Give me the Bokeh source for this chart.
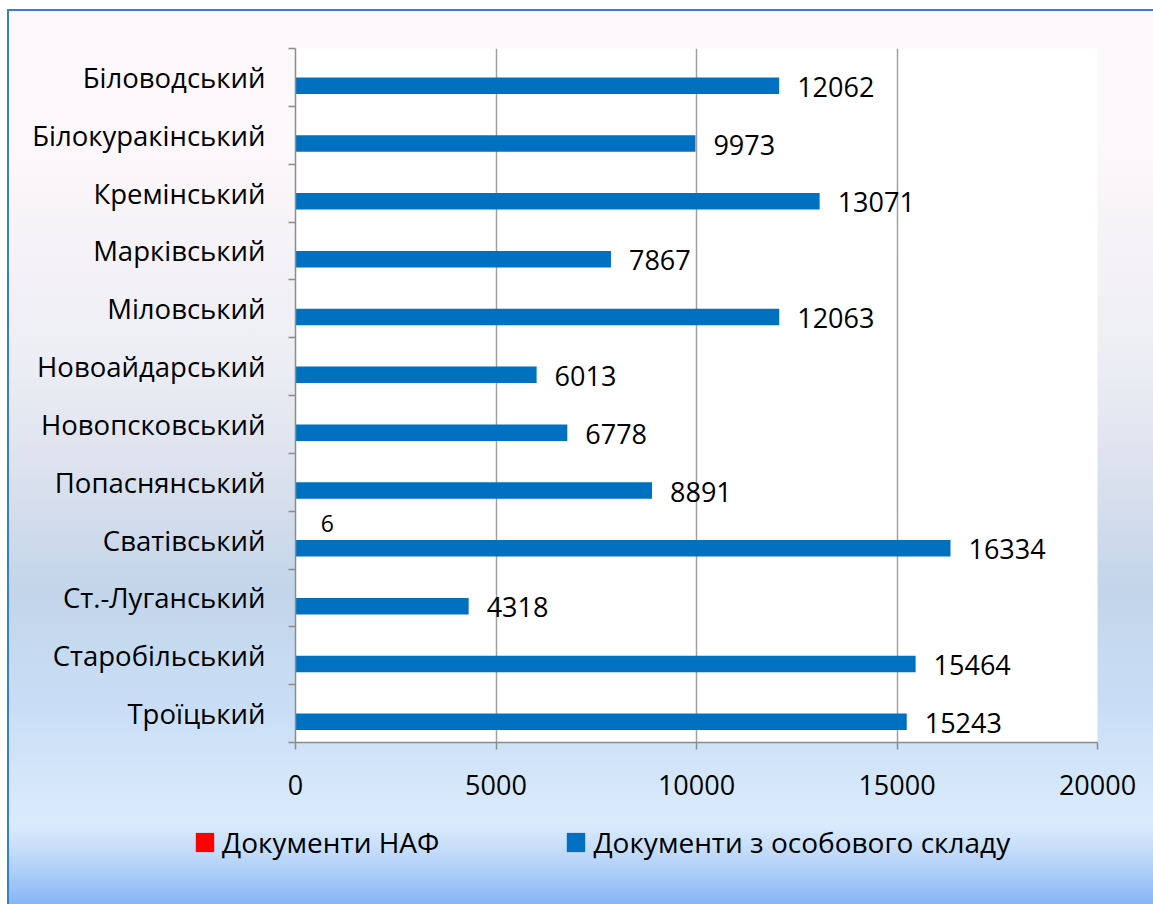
import pandas as pd
from bokeh.plotting import figure
from bokeh.layouts import column
from bokeh.models import ColumnDataSource, Range1d, FixedTicker, Legend, LegendItem
from bokeh.transform import dodge
from bokeh.core.properties import value
from bokeh.embed import file_html
from bokeh.resources import INLINE

districts = ["Біловодський", "Білокуракінський", "Кремінський", "Марківський",
             "Міловський", "Новоайдарський", "Новопсковський", "Попаснянський",
             "Сватівський", "Ст.-Луганський", "Старобільський", "Троїцький"]
naf_docs = [0, 0, 0, 0, 0, 0, 0, 0, 6, 0, 0, 0]
staff_docs = [12062, 9973, 13071, 7867, 12063, 6013, 6778, 8891, 16334, 4318, 15464, 15243]
x_ticks = [0, 5000, 10000, 15000, 20000]
series_names = ["Документи НАФ", "Документи з особового складу"]
series_colors = ["#FF0000", "#0070C0"]

FONT = "Open Sans"
n = len(districts)
df = pd.DataFrame({
    "pos": [i + 0.5 for i in range(n)],
    "naf": naf_docs,
    "staff": staff_docs,
    "naf_lbl": [str(v) if v else "" for v in naf_docs],
    "staff_lbl": [str(v) for v in staff_docs],
})
src = ColumnDataSource(df)

# ---------------- main chart ----------------
p = figure(frame_width=802, frame_height=694, x_range=Range1d(0, 20000), y_range=Range1d(n, 0),
           output_backend="svg", toolbar_location=None,
           min_border_left=295, min_border_right=56, min_border_top=48, min_border_bottom=78)
p.background_fill_color = "white"
p.border_fill_color = None
p.outline_line_color = None

bar_h = 0.286
r_naf = p.hbar(y=dodge("pos", -bar_h / 2, range=p.y_range), left=0, right="naf", height=bar_h,
               fill_color=series_colors[0], line_color=None, source=src)
r_staff = p.hbar(y=dodge("pos", bar_h / 2, range=p.y_range), left=0, right="staff", height=bar_h,
                 fill_color=series_colors[1], line_color=None, source=src)

p.text(x="staff", y=dodge("pos", bar_h / 2, range=p.y_range), text="staff_lbl", source=src,
       x_offset=18, y_offset=1, text_baseline="middle", text_align="left",
       text_font=value(FONT), text_font_size="27px", text_color="black")
p.text(x="naf", y=dodge("pos", -bar_h / 2, range=p.y_range), text="naf_lbl", source=src,
       x_offset=25, y_offset=-8, text_baseline="middle", text_align="left",
       text_font=value(FONT), text_font_size="23px", text_color="black")

p.xaxis.ticker = FixedTicker(ticks=x_ticks)
p.xaxis.axis_line_color = "#8C8C8C"
p.xaxis.axis_line_width = 1.5
p.xaxis.major_tick_line_color = "#8C8C8C"
p.xaxis.major_tick_line_width = 1.5
p.xaxis.major_tick_in = 0
p.xaxis.major_tick_out = 7
p.xaxis.minor_tick_line_color = None
p.xaxis.major_label_text_font = FONT
p.xaxis.major_label_text_font_size = "27px"
p.xaxis.major_label_text_color = "black"
p.xaxis.major_label_standoff = 25

p.yaxis.ticker = FixedTicker(ticks=list(df["pos"]), minor_ticks=list(range(n + 1)))
p.yaxis.major_label_overrides = {float(pos): name for pos, name in zip(df["pos"], districts)}
p.yaxis.axis_line_color = "#8C8C8C"
p.yaxis.axis_line_width = 1.5
p.yaxis.major_tick_line_color = None
p.yaxis.major_tick_in = 0
p.yaxis.major_tick_out = 0
p.yaxis.minor_tick_line_color = "#8C8C8C"
p.yaxis.minor_tick_line_width = 1.5
p.yaxis.minor_tick_in = 0
p.yaxis.minor_tick_out = 7
p.yaxis.major_label_text_font = FONT
p.yaxis.major_label_text_font_size = "27.5px"
p.yaxis.major_label_text_color = "black"
p.yaxis.major_label_standoff = 23

p.xgrid.ticker = FixedTicker(ticks=x_ticks)
p.xgrid.grid_line_color = "#A0A0A0"
p.xgrid.grid_line_width = 1.5
p.ygrid.grid_line_color = None

# ---------------- legend strip ----------------
q = figure(frame_width=1153, frame_height=84, x_range=Range1d(0, 1153), y_range=Range1d(0, 84),
           output_backend="svg", toolbar_location=None, x_axis_type=None, y_axis_type=None,
           min_border=0)
q.background_fill_color = None
q.border_fill_color = None
q.outline_line_color = None
q.grid.grid_line_color = None
# legend-only renderers (zero-height bars, nothing is drawn in the strip)
l_naf = q.hbar(y="pos", left=0, right="naf", height=0, fill_color=series_colors[0],
               line_color=None, source=src)
l_staff = q.hbar(y="pos", left=0, right="staff", height=0, fill_color=series_colors[1],
                 line_color=None, source=src)

legend = Legend(items=[LegendItem(label=series_names[0], renderers=[l_naf]),
                       LegendItem(label=series_names[1], renderers=[l_staff])],
                location=(193, 43), orientation="horizontal", padding=0, margin=0, spacing=125,
                glyph_width=23, glyph_height=24, label_standoff=6,
                label_text_font=FONT, label_text_font_size="28px", label_text_color="black",
                background_fill_alpha=0, border_line_color=None)
q.add_layout(legend, "center")

BLUE_EDGE = "#3A7DC8"
layout = column(p, q, spacing=0)
layout.styles = {
    "background": (
        f"linear-gradient({BLUE_EDGE},{BLUE_EDGE}) 7px 9px / 2px 100% no-repeat, "
        f"linear-gradient({BLUE_EDGE},{BLUE_EDGE}) 7px 9px / 100% 2px no-repeat, "
        "linear-gradient(to bottom, #FDF8FB 0%, #FCF7FA 15%, #ECEDF4 40%, #D6DEEC 55%, "
        "#C2D5EA 65%, #C9DEF6 78%, #DAEBFC 91%, #C5DCFA 94%, #A6CAF8 97%, #86B6F7 100%) "
        "9px 11px / 100% 893px no-repeat, #FFFFFF"
    ),
}

open("out.html", "w").write(file_html(layout, INLINE))
